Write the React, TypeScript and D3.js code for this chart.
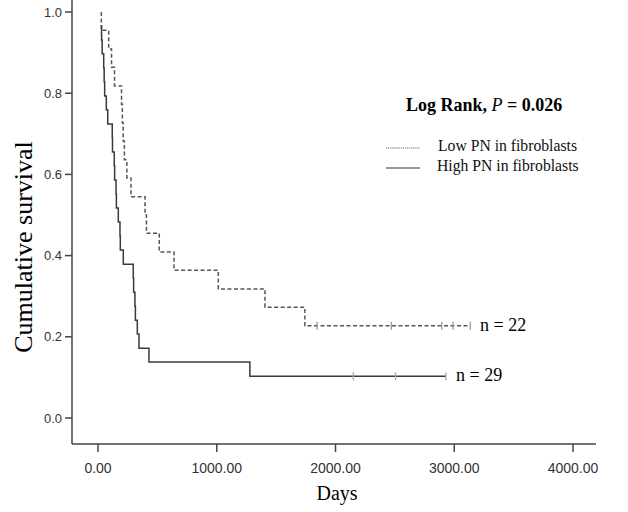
import React from "react";
import * as d3 from "d3";

// ---- data ----
const xTicks = [0, 1000, 2000, 3000, 4000];
const yTicks = [0, 0.2, 0.4, 0.6, 0.8, 1.0];

const lowStart = { t: 28, s: 1.0 };
const lowTimes = [28, 90, 114, 139, 198, 205, 212, 222, 243, 278, 396, 408, 516, 640, 1013, 1406, 1742];
const lowSurv = [0.955, 0.909, 0.864, 0.818, 0.773, 0.727, 0.682, 0.636, 0.591, 0.545, 0.5, 0.455, 0.409, 0.364, 0.318, 0.273, 0.227];
const lowCensor = [1845, 2470, 2895, 2990, 3135];

const highStart = { t: 28, s: 0.966 };
const highTimes = [30, 35, 48, 52, 56, 70, 82, 120, 122, 137, 140, 152, 155, 171, 185, 188, 213, 297, 300, 311, 315, 331, 345, 429, 1279];
const highSurv = [0.931, 0.897, 0.862, 0.828, 0.793, 0.759, 0.724, 0.69, 0.655, 0.621, 0.586, 0.552, 0.517, 0.483, 0.448, 0.414, 0.379, 0.345, 0.31, 0.276, 0.241, 0.207, 0.172, 0.138, 0.103];
const highCensor = [2150, 2505, 2930];

const legendLabels = ["Low PN in fibroblasts", "High PN in fibroblasts"];
const nLabels = ["n = 22", "n = 29"];

const SERIF = "'Liberation Serif', 'Times New Roman', serif";
const SANS = "'Liberation Sans', Arial, sans-serif";

type P = { t: number; s: number };

function buildPoints(start: P, times: number[], surv: number[], censor: number[]): P[] {
  const pts: P[] = [start];
  times.forEach((t, i) => pts.push({ t, s: surv[i] }));
  const last = surv[surv.length - 1];
  pts.push({ t: censor[censor.length - 1], s: last });
  return pts;
}

export default function App() {
  const x = d3.scaleLinear().domain([0, 4000]).range([98, 573]);
  const y = d3.scaleLinear().domain([0, 1]).range([418, 12]);
  const line = d3
    .line<P>()
    .x((d) => x(d.t))
    .y((d) => y(d.s))
    .curve(d3.curveStepAfter);

  const lowPts = buildPoints(lowStart, lowTimes, lowSurv, lowCensor);
  const highPts = buildPoints(highStart, highTimes, highSurv, highCensor);
  const lowLast = lowSurv[lowSurv.length - 1];
  const highLast = highSurv[highSurv.length - 1];

  const axisY = 444;
  const axisX = 72;

  return (
    <svg
      width={628}
      height={512}
      style={{ position: "absolute", left: 0, top: 0, background: "#fff" }}
    >
      <rect x={0} y={0} width={628} height={512} fill="#fff" />
      {/* axes */}
      <line x1={axisX} x2={axisX} y1={0} y2={axisY} stroke="#444" strokeWidth={1.5} />
      <line x1={axisX} x2={596} y1={axisY} y2={axisY} stroke="#444" strokeWidth={1.5} />
      {yTicks.map((v) => (
        <g key={"y" + v}>
          <line x1={65} x2={axisX} y1={y(v)} y2={y(v)} stroke="#444" strokeWidth={1.5} />
          <text
            x={62}
            y={y(v)}
            dy="0.35em"
            textAnchor="end"
            fontFamily={SANS}
            fontSize={13}
            fill="#333"
          >
            {v.toFixed(1)}
          </text>
        </g>
      ))}
      {xTicks.map((v) => (
        <g key={"x" + v}>
          <line x1={x(v)} x2={x(v)} y1={axisY} y2={axisY + 8} stroke="#444" strokeWidth={1.5} />
          <text
            x={x(v)}
            y={473}
            textAnchor="middle"
            fontFamily={SANS}
            fontSize={14}
            fill="#333"
          >
            {v.toFixed(2)}
          </text>
        </g>
      ))}
      <text x={337} y={500} textAnchor="middle" fontFamily={SERIF} fontSize={20} fill="#000">
        Days
      </text>
      <text
        transform={`translate(32,247) rotate(-90)`}
        textAnchor="middle"
        fontFamily={SERIF}
        fontSize={26}
        fill="#000"
      >
        Cumulative survival
      </text>

      {/* curves */}
      <path
        d={line(lowPts) || ""}
        fill="none"
        stroke="#555"
        strokeWidth={1.5}
        strokeDasharray="4,2.5"
      />
      <path d={line(highPts) || ""} fill="none" stroke="#3a3a3a" strokeWidth={1.5} />
      {lowCensor.map((t) => (
        <line
          key={"lc" + t}
          x1={x(t)}
          x2={x(t)}
          y1={y(lowLast) - 4}
          y2={y(lowLast) + 4}
          stroke="#999"
          strokeWidth={1.3}
        />
      ))}
      {highCensor.map((t) => (
        <line
          key={"hc" + t}
          x1={x(t)}
          x2={x(t)}
          y1={y(highLast) - 4}
          y2={y(highLast) + 4}
          stroke="#aaa"
          strokeWidth={1.3}
        />
      ))}
      <text x={480} y={y(lowLast) + 5} fontFamily={SERIF} fontSize={18} fill="#000">
        {nLabels[0]}
      </text>
      <text x={456} y={y(highLast) + 5} fontFamily={SERIF} fontSize={18} fill="#000">
        {nLabels[1]}
      </text>

      {/* legend */}
      <text x={406} y={111} fontFamily={SERIF} fontSize={18} fontWeight="bold" fill="#000">
        Log Rank,{" "}
        <tspan fontStyle="italic" fontWeight="normal">
          P
        </tspan>{" "}
        = 0.026
      </text>
      <line x1={386} x2={420} y1={148} y2={148} stroke="#666" strokeWidth={1} strokeDasharray="1.2,0.9" />
      <text x={438} y={151} fontFamily={SERIF} fontSize={15.7} fill="#111">
        {legendLabels[0]}
      </text>
      <line x1={386} x2={420} y1={168} y2={168} stroke="#333" strokeWidth={1.2} />
      <text x={437} y={171} fontFamily={SERIF} fontSize={15.7} fill="#111">
        {legendLabels[1]}
      </text>
    </svg>
  );
}
